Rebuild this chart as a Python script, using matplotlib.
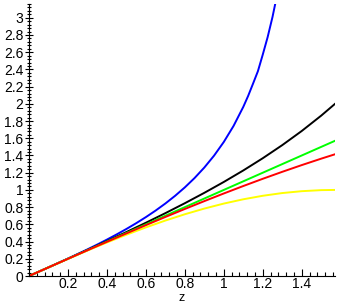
import matplotlib
matplotlib.use("Agg")
import matplotlib.pyplot as plt
from matplotlib.ticker import MultipleLocator

plt.rcParams['font.family'] = ['Liberation Sans', 'DejaVu Sans']

# values (z from 0 to pi/2)
z = [0, 0.1, 0.2, 0.3, 0.4, 0.5, 0.6, 0.7, 0.8, 0.9, 1.0, 1.1, 1.2, 1.3, 1.4, 1.5, 1.5708]
z_blue = [0, 0.1, 0.2, 0.3, 0.35, 0.4, 0.45, 0.5, 0.55, 0.6, 0.65, 0.7, 0.75, 0.8, 0.85,
          0.9, 0.95, 1.0, 1.05, 1.1, 1.125, 1.15, 1.175, 1.2, 1.225, 1.25, 1.275]
blue = [0, 0.1003, 0.2027, 0.3093, 0.3650, 0.4228, 0.4831, 0.5463, 0.6131, 0.6841,
        0.7602, 0.8423, 0.9316, 1.0296, 1.1383, 1.2602, 1.3984, 1.5574, 1.7433,
        1.9648, 2.0925, 2.2345, 2.3790, 2.5722, 2.7750, 3.0096, 3.2820]
black = [0, 0.1001, 0.2007, 0.3023, 0.4054, 0.5107, 0.6187, 0.7300, 0.8456, 0.9662,
         1.0926, 1.2262, 1.3683, 1.5204, 1.6846, 1.8632, 2.0]
green = [0, 0.1, 0.2, 0.3, 0.4, 0.5, 0.6, 0.7, 0.8, 0.9, 1.0, 1.1, 1.2, 1.3, 1.4, 1.5, 1.5708]
red = [0, 0.0999, 0.1997, 0.2989, 0.3973, 0.4948, 0.5910, 0.6858, 0.7788, 0.8699,
       0.9589, 1.0453, 1.1293, 1.2103, 1.2884, 1.3633, 1.4142]
yellow = [0, 0.0998, 0.1987, 0.2955, 0.3894, 0.4794, 0.5646, 0.6442, 0.7174, 0.7833,
          0.8415, 0.8912, 0.9320, 0.9636, 0.9854, 0.9975, 1.0]

fig = plt.figure(figsize=(3.41, 3.05), dpi=100)
ax = fig.add_axes([29/341, 29/305, 306/341, 272/305])

lw = 1.4
ax.plot(z_blue, blue, color='#0000ff', lw=lw)
ax.plot(z, black, color='black', lw=lw)
ax.plot(z, green, color='#00ff00', lw=lw)
ax.plot(z, yellow, color='#ffff00', lw=lw)
ax.plot(z, red, color='#ff0000', lw=lw)

ax.set_xlim(0, 1.5708)
ax.set_ylim(0, 3.16)
ax.spines['top'].set_visible(False)
ax.spines['right'].set_visible(False)

ax.set_xticks([0.2, 0.4, 0.6, 0.8, 1.0, 1.2, 1.4])
ax.set_xticklabels(['0.2', '0.4', '0.6', '0.8', '1', '1.2', '1.4'])
yt = [0, 0.2, 0.4, 0.6, 0.8, 1.0, 1.2, 1.4, 1.6, 1.8, 2.0, 2.2, 2.4, 2.6, 2.8, 3.0]
ax.set_yticks(yt)
ax.set_yticklabels(['%g' % v for v in yt])
ax.xaxis.set_minor_locator(MultipleLocator(0.04))
ax.yaxis.set_minor_locator(MultipleLocator(0.04))

ax.tick_params(axis='x', which='major', direction='in', length=5, width=0.8, labelsize=10, pad=1)
ax.tick_params(axis='x', which='minor', direction='in', length=3, width=0.8)
ax.tick_params(axis='y', which='major', direction='inout', length=6, width=0.8, labelsize=10, pad=1)
ax.tick_params(axis='y', which='minor', direction='inout', length=3, width=0.8)

ax.set_xlabel('z', fontsize=9, labelpad=0)
ax.xaxis.set_label_coords(0.5, -0.058)

fig.savefig('out.png', dpi=100)
